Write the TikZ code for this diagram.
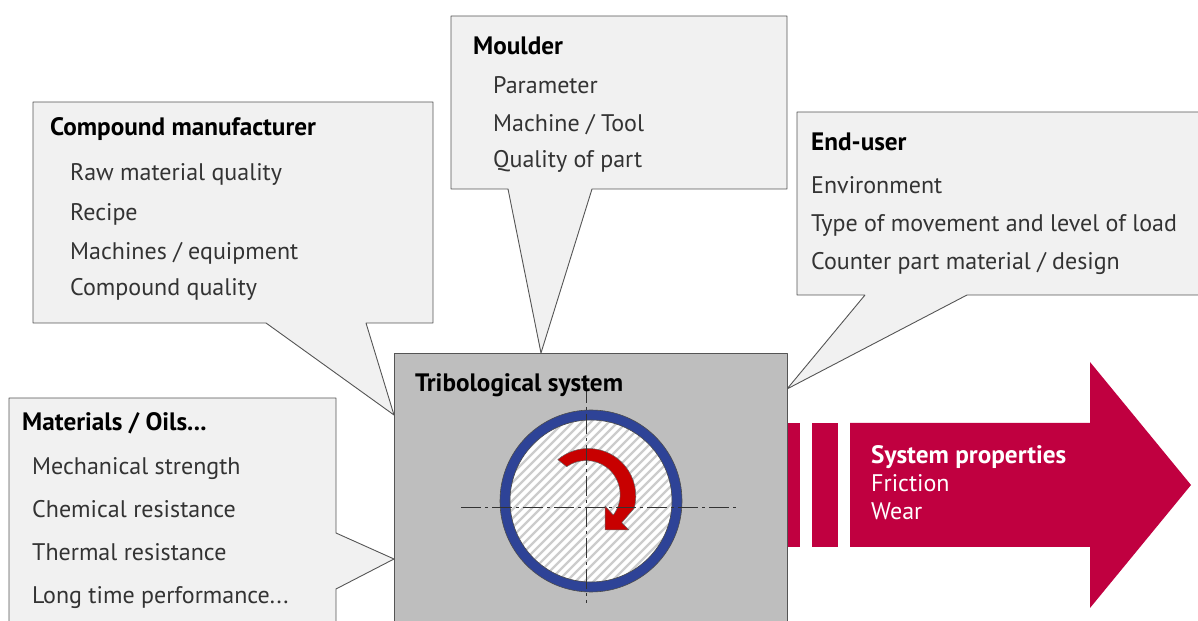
\documentclass[tikz,border=0pt]{standalone}
\usepackage{fontspec}
\setmainfont{PT Sans}
\usepackage{tikz}
\usetikzlibrary{positioning}
\definecolor{calloutfill}{HTML}{F1F1F1}
\definecolor{calloutline}{HTML}{555555}
\definecolor{systemgray}{HTML}{BEBEBE}
\definecolor{ringblue}{HTML}{2E4397}
\definecolor{propred}{HTML}{C00040}
\definecolor{turnred}{HTML}{C80000}
\definecolor{textgray}{HTML}{333333}
\tikzset{
  callout/.style={draw=calloutline,fill=calloutfill,line width=0.9bp},
  headtext/.style={anchor=base west,inner sep=0pt,font=\fontsize{25.2bp}{29bp}\selectfont\bfseries,text=black},
  itemtext/.style={anchor=base west,inner sep=0pt,font=\fontsize{24bp}{28bp}\selectfont,text=textgray},
  proptext/.style={itemtext,text=white},
  axisline/.style={black!80,line width=0.9bp,dash pattern=on 20bp off 4bp on 3bp off 4bp},
}
\begin{document}
\begin{tikzpicture}[>=latex,line join=bevel,]
\useasboundingbox (0bp,0bp) rectangle (1198bp,621bp);
%%
\draw [callout] (33bp,519bp) -- (433bp,519bp) -- (433bp,298bp) -- (366bp,298bp) -- (394bp,206bp) -- (266bp,298bp) -- (33bp,298bp) -- cycle;
\draw [callout] (451bp,605bp) -- (787bp,605bp) -- (787bp,432bp) -- (592bp,432bp) -- (541bp,268bp) -- (508bp,432bp) -- (451bp,432bp) -- cycle;
\draw [callout] (1203bp,509bp) -- (797bp,509bp) -- (797bp,326bp) -- (865bp,326bp) -- (787bp,232bp) -- (967bp,326bp) -- (1203bp,326bp);
\draw [callout] (9bp,-5bp) -- (9bp,223bp) -- (336bp,223bp) -- (336bp,88bp) -- (394bp,62bp) -- (336bp,32bp) -- (336bp,-5bp);
%
\fill [propred] (787bp,74bp) rectangle (800bp,198bp);
\fill [propred] (812bp,74bp) rectangle (838bp,198bp);
\fill [propred] (850bp,74bp) -- (850bp,198bp) -- (1090bp,198bp) -- (1090bp,259bp) -- (1191bp,136bp) -- (1090bp,13bp) -- (1090bp,74bp) -- cycle;
%
\draw [draw=calloutline,fill=systemgray,line width=0.9bp] (394bp,-5bp) rectangle (787bp,268bp);
%
\fill [white] (591bp,120bp) circle (81bp);
\begin{scope}
  \clip (591bp,120bp) circle (81bp);
  \foreach \i in {0,9,...,360} {
    \draw [black!20,line width=2.4bp] (\i bp + 300bp,-20bp) -- +(280bp,280bp);
  }
\end{scope}
\draw [draw=black!70,fill=ringblue,even odd rule,line width=0.6bp] (591bp,120bp) circle (91bp) (591bp,120bp) circle (81bp);
%
\draw [draw=black!60,fill=turnred,line width=0.5bp] (588.3bp,125bp) ++(130:47.5bp) arc [start angle=130,end angle=-15,radius=47.5bp] -- (621.7bp,98.3bp) -- (629bp,91bp) -- (605bp,91bp) -- (605bp,115bp) -- (613.3bp,106bp) arc [start angle=-37,end angle=125,radius=34bp] -- cycle;
%
\draw [axisline] (461bp,114bp) -- (739bp,114bp);
\draw [axisline] (586bp,238bp) -- (586bp,18bp);
%
\node (node_compound) at (50bp,485bp) [headtext] {Compound manufacturer};
\node (node_rawmaterial) at (70bp,440bp) [itemtext] {Raw material quality};
\node (node_recipe) at (70bp,400bp) [itemtext] {Recipe};
\node (node_machines) at (70bp,361bp) [itemtext] {Machines / equipment};
\node (node_compoundq) at (70bp,325bp) [itemtext] {Compound quality};
%
\node (node_moulder) at (473bp,566bp) [headtext] {Moulder};
\node (node_parameter) at (493bp,527bp) [itemtext] {Parameter};
\node (node_tool) at (493bp,489bp) [itemtext] {Machine / Tool};
\node (node_part) at (493bp,453bp) [itemtext] {Quality of part};
%
\node (node_enduser) at (811bp,470bp) [headtext] {End-user};
\node (node_environment) at (811bp,427bp) [itemtext] {Environment};
\node (node_movement) at (811bp,389bp) [itemtext] {Type of movement and level of load};
\node (node_counter) at (811bp,351bp) [itemtext] {Counter part material / design};
%
\node (node_materials) at (22bp,190bp) [headtext] {Materials / Oils...};
\node (node_mechanical) at (32bp,146bp) [itemtext] {Mechanical strength};
\node (node_chemical) at (32bp,103bp) [itemtext] {Chemical resistance};
\node (node_thermal) at (32bp,60bp) [itemtext] {Thermal resistance};
\node (node_longtime) at (32bp,18bp) [itemtext] {Long time performance...};
%
\node (node_tribo) at (415bp,229bp) [headtext] {Tribological system};
\node (node_props) at (871bp,157bp) [headtext,text=white] {System properties};
\node (node_friction) at (871bp,129bp) [proptext] {Friction};
\node (node_wear) at (871bp,101bp) [proptext] {Wear};
%
\end{tikzpicture}
\end{document}
